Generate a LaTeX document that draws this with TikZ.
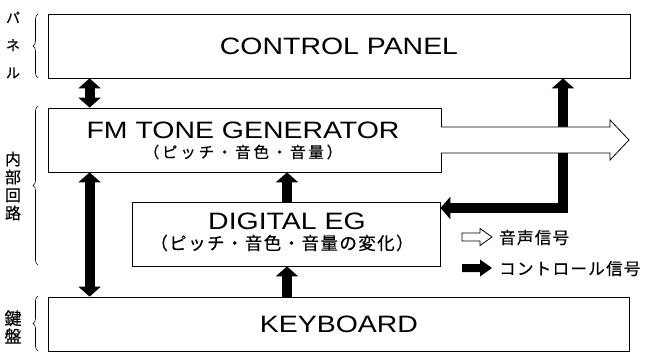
\documentclass[tikz,border=0pt]{standalone}
\usepackage{fontspec}
\setmainfont{Liberation Sans}
\newfontfamily\jp[LetterSpace=8,FakeBold=0.5]{Noto Sans CJK JP}
\newfontfamily\jpa[LetterSpace=18,FakeBold=0.5]{Noto Sans CJK JP}
\newfontfamily\jpn[FakeBold=0.5]{Noto Sans CJK JP}
\usetikzlibrary{arrows.meta,decorations.pathreplacing}
\newcommand\widetxt[1]{\scalebox{1.2}[1]{#1}}
\tikzset{tipB/.tip={Triangle[width=22pt,length=10pt]}}
\begin{document}
\begin{tikzpicture}[x=1pt,y=-1pt,
  box/.style={draw, line width=0.8pt, rectangle, inner sep=0pt},
  title/.style={font=\fontsize{23.7}{28}\selectfont, inner sep=0pt},
  subA/.style={font=\jpa\fontsize{15.5}{18}\selectfont, inner sep=0pt},
  subB/.style={font=\jp\fontsize{17.5}{20}\selectfont, inner sep=0pt},
  ctrl/.style={line width=10pt, draw=black, line join=miter},
  brc/.style={decorate, decoration={brace, amplitude=5pt}, line width=0.6pt},
  legtxt/.style={font=\jp\fontsize{16.5}{19}\selectfont, anchor=west, inner sep=0pt},
  side/.style={align=center, inner sep=0pt}
]
\useasboundingbox (0,0) rectangle (649,353);
% boxes
\node[box, minimum width=582pt, minimum height=64pt] (cp) at (339,46) {};
\node[box, minimum width=393pt, minimum height=64pt] (fm) at (244.5,140) {};
\node[box, minimum width=308pt, minimum height=64pt] (eg) at (286,234) {};
\node[box, minimum width=581pt, minimum height=54pt] (kb) at (338.5,324) {};
% texts
\node[title] (cpt) at (339,46) {\widetxt{CONTROL PANEL}};
\node[title] (fmt) at (243,130) {\widetxt{FM TONE GENERATOR}};
\node[subA] (fms) at (243,152) {（ピッチ・音色・音量）};
\node[title] (egt) at (287,221.5) {\widetxt{DIGITAL EG}};
\node[subB] (egs) at (282,243) {（ピッチ・音色・音量の変化）};
\node[title] (kbt) at (339,324) {\widetxt{KEYBOARD}};
% control connectors
\draw[ctrl, tipB-tipB] ([xshift=42pt]cp.south west) -- ([xshift=42pt]fm.north west);
\draw[ctrl, tipB-tipB] ([xshift=42pt]fm.south west) -- ([xshift=42pt]kb.north west);
\draw[ctrl, -tipB] ([xshift=1pt]eg.north) -- ([xshift=1pt]eg.north |- fm.south);
\draw[ctrl, -tipB] ([xshift=1pt]kb.north -| eg.north) -- ([xshift=1pt]eg.south);
\coordinate (cc) at (563,208);
\draw[ctrl, tipB-tipB] ([yshift=26pt]eg.east) -- (cc) -- (cc |- cp.south);
% audio signal arrow
\draw[line width=0.8pt, fill=white] ([xshift=-0.5pt,yshift=13pt]fm.east) -- (610,127) -- (610,120) -- (629,140) -- (610,160) -- (610,153) -- ([xshift=-0.5pt,yshift=-13pt]fm.east);
% legend
\draw[line width=0.8pt] (462,233) -- (480,233) -- (480,228.5) -- (492,237) -- (480,245.5) -- (480,241) -- (462,241) -- cycle;
\fill (462,264) -- (480,264) -- (480,259.5) -- (492,268) -- (480,276.5) -- (480,272) -- (462,272) -- cycle;
\node[legtxt] (l1) at (499,237.5) {音声信号};
\node[legtxt] (l2) at (499,268.5) {コントロール信号};
% side labels
\node[side, font=\jpn\fontsize{14}{27.5}\selectfont] (pnl) at (13,45) {パ\\ネ\\ル};
\node[side, font=\jpn\fontsize{16}{18}\selectfont] (int) at (13,186) {内\\部\\回\\路};
\node[side, font=\jpn\fontsize{17}{18}\selectfont] (kbd) at (13,327) {鍵\\盤};
\draw[brc] (38,78) -- (38,14);
\draw[brc] (38,265) -- (38,106);
\draw[brc] (38,351) -- (38,296);
\end{tikzpicture}
\end{document}
